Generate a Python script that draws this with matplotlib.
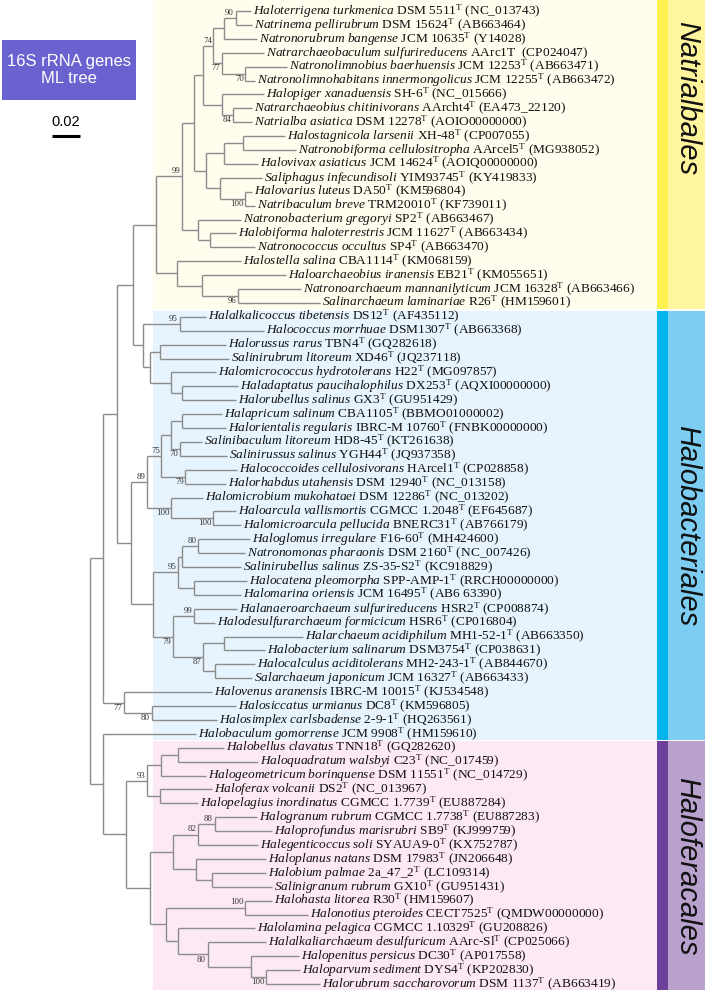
import matplotlib
matplotlib.use("Agg")
import matplotlib.pyplot as plt
from matplotlib.patches import Rectangle
from matplotlib import font_manager

plt.rcParams['mathtext.fontset'] = 'custom'
plt.rcParams['mathtext.rm'] = 'Liberation Serif'
plt.rcParams['mathtext.it'] = 'Liberation Serif:italic'

# ---- leaves, top to bottom ----
species = [
    'Haloterrigena turkmenica', 'Natrinema pellirubrum', 'Natronorubrum bangense',
    'Natrarchaeobaculum sulfurireducens', 'Natronolimnobius baerhuensis',
    'Natronolimnohabitans innermongolicus', 'Halopiger xanaduensis',
    'Natrarchaeobius chitinivorans', 'Natrialba asiatica', 'Halostagnicola larsenii',
    'Natronobiforma cellulositropha', 'Halovivax asiaticus', 'Saliphagus infecundisoli',
    'Halovarius luteus', 'Natribaculum breve', 'Natronobacterium gregoryi',
    'Halobiforma haloterrestris', 'Natronococcus occultus', 'Halostella salina',
    'Haloarchaeobius iranensis', 'Natronoarchaeum mannanilyticum', 'Salinarchaeum laminariae',
    'Halalkalicoccus tibetensis', 'Halococcus morrhuae', 'Halorussus rarus',
    'Salinirubrum litoreum', 'Halomicrococcus hydrotolerans', 'Haladaptatus paucihalophilus',
    'Halorubellus salinus', 'Halapricum salinum', 'Halorientalis regularis',
    'Salinibaculum litoreum', 'Salinirussus salinus', 'Halococcoides cellulosivorans',
    'Halorhabdus utahensis', 'Halomicrobium mukohataei', 'Haloarcula vallismortis',
    'Halomicroarcula pellucida', 'Haloglomus irregulare', 'Natronomonas pharaonis',
    'Salinirubellus salinus', 'Halocatena pleomorpha', 'Halomarina oriensis',
    'Halanaeroarchaeum sulfurireducens', 'Halodesulfurarchaeum formicicum',
    'Halarchaeum acidiphilum', 'Halobacterium salinarum', 'Halocalculus aciditolerans',
    'Salarchaeum japonicum', 'Halovenus aranensis', 'Halosiccatus urmianus',
    'Halosimplex carlsbadense', 'Halobaculum gomorrense', 'Halobellus clavatus',
    'Haloquadratum walsbyi', 'Halogeometricum borinquense', 'Haloferax volcanii',
    'Halopelagius inordinatus', 'Halogranum rubrum', 'Haloprofundus marisrubri',
    'Halegenticoccus soli', 'Haloplanus natans', 'Halobium palmae', 'Salinigranum rubrum',
    'Halohasta litorea', 'Halonotius pteroides', 'Halolamina pelagica',
    'Halalkaliarchaeum desulfuricum', 'Halopenitus persicus', 'Haloparvum sediment',
    'Halorubrum saccharovorum',
]
strains = [
    'DSM 5511^T', 'DSM 15624^T', 'JCM 10635^T', 'AArc1T ', 'JCM 12253^T', 'JCM 12255^T',
    'SH-6^T', 'AArcht4^T', 'DSM 12278^T', 'XH-48^T', 'AArcel5^T', 'JCM 14624^T',
    'YIM93745^T', 'DA50^T', 'TRM20010^T', 'SP2^T', 'JCM 11627^T', 'SP4^T', 'CBA1114^T',
    'EB21^T', 'JCM 16328^T', 'R26^T', 'DS12^T', 'DSM1307^T', 'TBN4^T', 'XD46^T', 'H22^T',
    'DX253^T', 'GX3^T', 'CBA1105^T', 'IBRC-M 10760^T', 'HD8-45^T', 'YGH44^T', 'HArcel1^T',
    'DSM 12940^T', 'DSM 12286^T', 'CGMCC 1.2048^T', 'BNERC31^T', 'F16-60^T', 'DSM 2160^T',
    'ZS-35-S2^T', 'SPP-AMP-1^T', 'JCM 16495^T', 'HSR2^T', 'HSR6^T', 'MH1-52-1^T',
    'DSM3754^T', 'MH2-243-1^T', 'JCM 16327^T', 'IBRC-M 10015^T', 'DC8^T', '2-9-1^T',
    'JCM 9908^T', 'TNN18^T', 'C23^T', 'DSM 11551^T', 'DS2^T', 'CGMCC 1.7739^T',
    'CGMCC 1.7738^T', 'SB9^T', 'SYAUA9-0^T', 'DSM 17983^T', '2a_47_2^T', 'GX10^T', 'R30^T',
    'CECT7525^T', 'CGMCC 1.10329^T', 'AArc-Sl^T', 'DC30^T', 'DYS4^T', 'DSM 1137^T',
]
accessions = [
    '(NC_013743)', '(AB663464)', '(Y14028)', '(CP024047)', '(AB663471)', '(AB663472)',
    '(NC_015666)', '(EA473_22120)', '(AOIO00000000)', '(CP007055)', '(MG938052)',
    '(AOIQ00000000)', '(KY419833)', '(KM596804)', '(KF739011)', '(AB663467)', '(AB663434)',
    '(AB663470)', '(KM068159)', '(KM055651)', '(AB663466)', '(HM159601)', '(AF435112)',
    '(AB663368)', '(GQ282618)', '(JQ237118)', '(MG097857)', '(AQXI00000000)', '(GU951429)',
    '(BBMO01000002)', '(FNBK00000000)', '(KT261638)', '(JQ937358)', '(CP028858)',
    '(NC_013158)', '(NC_013202)', '(EF645687)', '(AB766179)', '(MH424600)', '(NC_007426)',
    '(KC918829)', '(RRCH00000000)', '(AB6 63390)', '(CP008874)', '(CP016804)', '(AB663350)',
    '(CP038631)', '(AB844670)', '(AB663433)', '(KJ534548)', '(KM596805)', '(HQ263561)',
    '(HM159610)', '(GQ282620)', '(NC_017459)', '(NC_014729)', '(NC_013967)', '(EU887284)',
    '(EU887283)', '(KJ999759)', '(KX752787)', '(JN206648)', '(LC109314)', '(GU951431)',
    '(HM159607)', '(QMDW00000000)', '(GU208826)', '(CP025066)', '(AP017558)', '(KP202830)',
    '(AB663419)',
]
# distance from root (substitutions per site)
tip_depth = [
    0.115, 0.116, 0.119, 0.124, 0.141, 0.118, 0.124, 0.116, 0.116, 0.139, 0.147, 0.120,
    0.123, 0.116, 0.118, 0.108, 0.104, 0.118, 0.108, 0.140, 0.151, 0.164, 0.083, 0.124,
    0.097, 0.099, 0.090, 0.106, 0.104, 0.094, 0.097, 0.080, 0.098, 0.105, 0.097, 0.081,
    0.104, 0.108, 0.114, 0.111, 0.108, 0.112, 0.108, 0.105, 0.089, 0.152, 0.125, 0.118,
    0.116, 0.087, 0.104, 0.091, 0.076, 0.096, 0.120, 0.083, 0.087, 0.077, 0.119, 0.130,
    0.120, 0.126, 0.126, 0.130, 0.130, 0.156, 0.118, 0.126, 0.149, 0.150, 0.164,
]

# ---- internal nodes: children (int = leaf, str = node), depth, bootstrap ----
node_names = ['A', 'B', 'C', 'D', 'E', 'F', 'G', 'H', 'I', 'J', 'L', 'K', 'M', 'Q', 'N', 'O',
              'P', 'T', 'S', 'R', 'U', 'Hk', 'Y1', 'Z2', 'Z1', 'Y2', 'X', 'V', 'Z3', 'Z4', 'Z5',
              'Z6', 'Z7', 'Z8', 'Z9', 'Z10', 'Z12', 'Z13', 'Z14', 'Z15', 'Z16', 'Z17', 'Z18',
              'Z19', 'Z20', 'Z21', 'Z11', 'T2', 'S1', 'S2', 'T1', 'H1', 'H2', 'H3', 'H4', 'H6',
              'H7', 'H8', 'H9', 'H10', 'H11', 'H12', 'H13', 'H14', 'H15', 'H16', 'H17', 'H5',
              'B1', 'root']
node_children = [
    [0, 1], ['A', 2], [4, 5], [3, 'C'], ['B', 'D'], [7, 8], [6, 'F'], ['E', 'G'], [9, 10],
    ['I', 11], [13, 14], [12, 'L'], ['J', 'K'], ['H', 'M'], [16, 17], [15, 'N'], ['Q', 'O'],
    [20, 21], [19, 'T'], [18, 'S'], ['P', 'R'], [22, 23], [24, 25], [27, 28], [26, 'Z2'],
    ['Y1', 'Z1'], ['Hk', 'Y2'], ['U', 'X'], [29, 30], [31, 32], ['Z3', 'Z4'], [33, 34],
    ['Z5', 'Z6'], [36, 37], [35, 'Z8'], ['Z7', 'Z9'], [38, 39], ['Z12', 40], [41, 42],
    ['Z13', 'Z14'], [43, 44], [45, 46], [47, 48], ['Z17', 'Z18'], ['Z16', 'Z19'],
    ['Z15', 'Z20'], ['Z10', 'Z21'], ['V', 'Z11'], [50, 51], [49, 'S1'], ['T2', 'S2'],
    [53, 54], ['H1', 55], [56, 57], ['H2', 'H3'], [58, 59], ['H6', 60], [62, 63], [61, 'H8'],
    ['H7', 'H9'], [64, 65], [69, 70], [68, 'H12'], [67, 'H13'], [66, 'H14'], ['H11', 'H15'],
    ['H10', 'H16'], ['H4', 'H17'], [52, 'H5'], ['T1', 'B1'],
]
node_depth = [
    0.104, 0.096, 0.111, 0.094, 0.088, 0.102, 0.094, 0.081, 0.109, 0.096, 0.111, 0.093,
    0.083, 0.074, 0.086, 0.077, 0.066, 0.106, 0.080, 0.062, 0.047, 0.064, 0.050, 0.066,
    0.058, 0.043, 0.038, 0.031, 0.066, 0.064, 0.058, 0.068, 0.051, 0.088, 0.058, 0.041,
    0.077, 0.066, 0.074, 0.063, 0.074, 0.096, 0.089, 0.081, 0.059, 0.045, 0.029, 0.019,
    0.044, 0.024, 0.009, 0.063, 0.051, 0.050, 0.041, 0.089, 0.077, 0.087, 0.076, 0.059,
    0.111, 0.126, 0.115, 0.084, 0.063, 0.054, 0.043, 0.026, 0.009, 0.0,
]
node_support = [
    90, None, 70, 77, 74, 84, None, None, None, None, 100, None, None, None, None, None,
    99, 96, None, None, None, 95, None, None, None, None, None, None, None, 70, None,
    79, 75, 100, 100, 89, 80, None, None, 95, 99, None, None, 87, 79, None, None, None,
    80, 77, None, None, None, None, 93, 88, 82, None, None, None, 100, 100, None, 80,
    None, None, None, None, None, None,
]

orders = ['Natrialbales', 'Halobacteriales', 'Haloferacales']
order_first = [0, 22, 53]
order_last = [21, 52, 70]
panel_colors = ['#fffdee', '#e7f4fd', '#fde9f3']
bar_dark = ['#fff250', '#00b5ea', '#6c3f98']
bar_light = ['#fff59c', '#7dcdf3', '#b8a1cc']

# ---- layout: x in substitution units, y in leaf rows ----
px_unit = 1400.0          # pixels per unit (0.02 -> 28 px)
root_px = 90.0
row_px = 13.9
top_px = 11.0
W, Hh = 710, 994

fig = plt.figure(figsize=(W / 100, Hh / 100), dpi=100)
ax = fig.add_axes([0, 0, 1, 1])
ax.set_xlim(-root_px / px_unit, (W - root_px) / px_unit)
ax.set_ylim((Hh - top_px) / row_px, -top_px / row_px)
ax.axis('off')


def px2x(p):
    return (p - root_px) / px_unit


def px2y(p):
    return (p - top_px) / row_px


depth = {n: d for n, d in zip(node_names, node_depth)}
kids = {n: c for n, c in zip(node_names, node_children)}
supp = {n: s for n, s in zip(node_names, node_support)}
parent = {}
for n, c in kids.items():
    for ch in c:
        parent[ch] = n

ypos = {}


def get_y(n):
    if isinstance(n, int):
        return float(n)
    if n not in ypos:
        ypos[n] = sum(get_y(c) for c in kids[n]) / len(kids[n])
    return ypos[n]


def get_x(n):
    return tip_depth[n] if isinstance(n, int) else depth[n]


# background panels per order
for k in range(3):
    y0 = px2y(0) if k == 0 else order_first[k] - 0.45
    y1 = px2y(990) if k == 2 else order_last[k] + 0.45
    ax.add_patch(Rectangle((px2x(153), y0), px2x(657) - px2x(153), y1 - y0,
                           facecolor=panel_colors[k], edgecolor='none', zorder=0))
    ax.add_patch(Rectangle((px2x(657), y0), px2x(668) - px2x(657), y1 - y0,
                           facecolor=bar_dark[k], edgecolor='none', zorder=0))
    ax.add_patch(Rectangle((px2x(668), y0), px2x(705) - px2x(668), y1 - y0,
                           facecolor=bar_light[k], edgecolor='none', zorder=0))

names = {f.name for f in font_manager.fontManager.ttflist}
if 'Liberation Sans Narrow' in names:
    grp_font, grp_size = 'Liberation Sans Narrow', 25
else:
    grp_font, grp_size = 'Liberation Sans', 21
for k in range(3):
    yc = (order_first[k] + order_last[k]) / 2
    if k == 0:
        yc = px2y(98)
    ax.text(px2x(687), yc, orders[k], rotation=-90, ha='center', va='center',
            fontsize=grp_size, style='italic', family=grp_font, color='#111111')

# tree lines
line_col = '#8c8c8c'
for n in node_names:
    xs = depth[n]
    ys = [get_y(c) for c in kids[n]]
    ax.plot([xs, xs], [min(ys), max(ys)], color=line_col, lw=1.0, solid_capstyle='butt')
    for c in kids[n]:
        ax.plot([xs, get_x(c)], [get_y(c), get_y(c)], color=line_col, lw=1.0,
                solid_capstyle='butt')

# bootstrap values
for n in node_names:
    s = supp[n]
    if s is None:
        continue
    p = parent.get(n)
    upper = p is not None and kids[p][0] == n
    ax.text(depth[n] - 1.5 / px_unit, get_y(n) + (-0.08 if upper else 0.08), str(s),
            ha='right', va='bottom' if upper else 'top', fontsize=6.3,
            family='Liberation Serif', color='#333333')

# leaf labels
for i, (sp, st, acc) in enumerate(zip(species, strains, accessions)):
    it = sp.replace(' ', r'\ ')
    lab = r'$\mathit{' + it + '}$ ' + st.replace('^T', r'$^{\mathrm{T}}$') + ' ' + acc
    ax.text(tip_depth[i] + 2 / px_unit, i, lab, ha='left', va='center', fontsize=9.6,
            family='Liberation Serif', color='#111111')

# title box and scale bar
ax.add_patch(Rectangle((2 / W, 1 - 100 / Hh), 134 / W, 60 / Hh, transform=ax.transAxes,
                       facecolor='#6a62cf', edgecolor='none'))
ax.text(69 / W, 1 - 70 / Hh, '16S rRNA genes\nML tree', transform=ax.transAxes,
        ha='center', va='center', color='white', fontsize=12, family='Liberation Sans',
        linespacing=1.2)
sx = px2x(52)
ax.plot([sx, sx + 0.02], [px2y(136), px2y(136)], color='black', lw=2.2,
        solid_capstyle='butt')
ax.text(sx + 0.01, px2y(122), '0.02', ha='center', va='center', fontsize=10.5,
        family='Liberation Sans')

fig.savefig('out.png', dpi=100)
